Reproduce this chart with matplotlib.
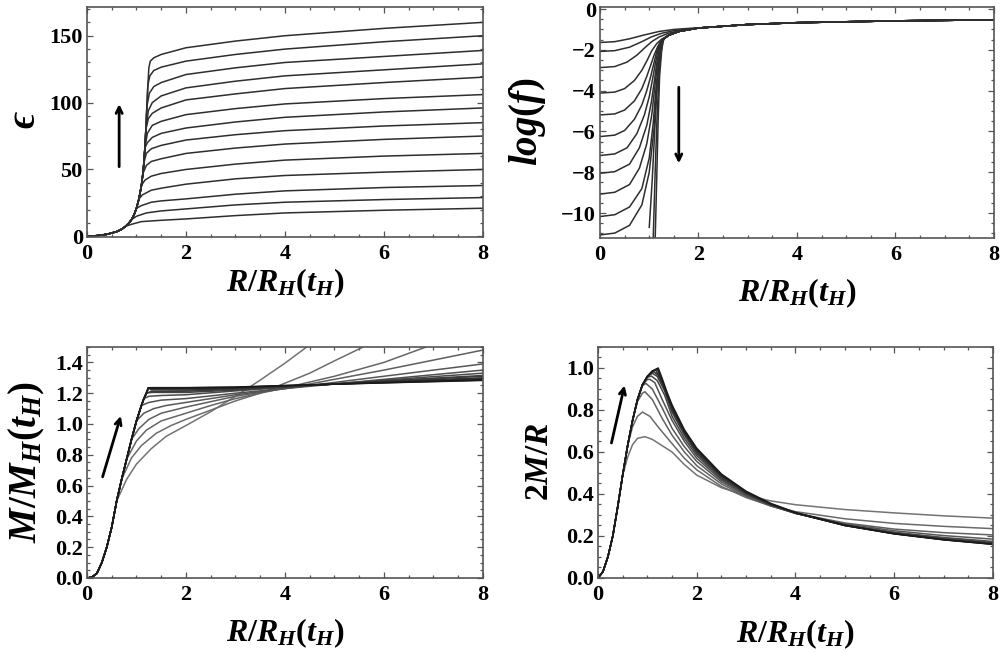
import matplotlib
matplotlib.use("Agg")
import matplotlib.pyplot as plt
from matplotlib.ticker import MultipleLocator, FormatStrFormatter, FuncFormatter

plt.rcParams['font.family'] = ['Liberation Serif', 'DejaVu Serif']
plt.rcParams['font.weight'] = 'bold'
plt.rcParams['mathtext.fontset'] = 'custom'
plt.rcParams['mathtext.rm'] = 'Liberation Serif:bold'
plt.rcParams['mathtext.it'] = 'Liberation Serif:italic:bold'
plt.rcParams['mathtext.bf'] = 'Liberation Serif:bold'

# ---- energy density: common rising branch, then one tail per curve ----
eps_env_R = [0, 0.2, 0.4, 0.6, 0.7, 0.78, 0.85, 0.9, 0.95, 1.0, 1.05, 1.1, 1.13, 1.15, 1.17, 1.19, 1.21, 1.23, 1.25]
eps_env_v = [0, 0.5, 1.5, 3.5, 5.3, 7.5, 10, 12.5, 16, 21, 28, 38, 47, 55, 66, 80, 97, 113, 126]
eps_dep = [18, 17, 16, 15, 15, 14, 14, 13, 12, 11, 10, 9, 7, 5]
eps_knee_R = [[1.28, 1.35], [1.27, 1.35], [1.26, 1.35], [1.24, 1.32], [1.24, 1.32], [1.22, 1.32], [1.22, 1.32],
              [1.2, 1.3], [1.2, 1.3], [1.17, 1.3], [1.12, 1.3], [1.1, 1.3], [1.0, 1.2], [0.9, 1.1]]
eps_knee_v = [[131, 133.5], [120, 124], [107, 112], [94, 100], [88, 92], [77, 83], [70, 74],
              [62, 65.5], [53, 56], [42, 45], [31, 34.5], [23, 25.5], [15, 17.5], [9, 11]]
eps_tail_R = [1.5, 2, 3, 4, 6, 8]
eps_tail_v = [[136, 141, 146, 150, 155.5, 160],
              [126.5, 131, 136, 140, 145.5, 150],
              [115, 121, 126, 130, 134.5, 139],
              [105, 111, 116, 120, 124.5, 129],
              [96, 102, 106.5, 110.5, 115, 119],
              [86, 91, 95.5, 99, 103, 106],
              [77, 81, 85.5, 89, 93, 96],
              [68, 72, 76, 79, 82.5, 85],
              [58, 62, 66, 69, 72.5, 75],
              [47, 50, 54, 57, 60, 62],
              [36, 39, 43, 45.5, 48, 50],
              [26.5, 28, 31.5, 34, 36.5, 38],
              [19, 20.5, 23.5, 25.5, 27.5, 29],
              [12, 13, 15.5, 17.5, 19.5, 21]]

# ---- log(f): each curve up to the shared outer branch ----
logf_tail_R = [1.3, 1.4, 1.6, 2.0, 3.0, 4.0, 6.0, 8.0]
logf_tail_v = [-1.45, -1.28, -1.1, -0.93, -0.76, -0.67, -0.58, -0.53]
logf_R = [[0, 0.3, 0.6, 0.9, 1.2, 1.5, 1.8],
          [0, 0.3, 0.6, 0.85, 1.05, 1.25, 1.5, 1.8],
          [0, 0.3, 0.55, 0.75, 0.9, 1.05, 1.2, 1.4, 1.7],
          [0, 0.3, 0.5, 0.7, 0.85, 0.95, 1.05, 1.15, 1.25],
          [0, 0.3, 0.5, 0.7, 0.85, 0.95, 1.03, 1.1, 1.17, 1.23],
          [0, 0.3, 0.5, 0.7, 0.85, 0.95, 1.03, 1.1, 1.16, 1.22],
          [0, 0.3, 0.55, 0.75, 0.9, 1.0, 1.07, 1.13, 1.18, 1.23],
          [0, 0.3, 0.6, 0.8, 0.95, 1.04, 1.1, 1.15, 1.2, 1.25],
          [0, 0.3, 0.6, 0.8, 0.95, 1.05, 1.11, 1.16, 1.21, 1.25],
          [0, 0.3, 0.6, 0.85, 1.0, 1.08, 1.13, 1.18, 1.22, 1.26],
          [0, 0.3, 0.6, 0.85, 1.0, 1.1, 1.15, 1.19, 1.23, 1.27],
          [1.0, 1.06, 1.11, 1.15, 1.19, 1.23, 1.27],
          [1.08, 1.12, 1.16, 1.2, 1.24, 1.28],
          [1.12, 1.15, 1.18, 1.21, 1.25, 1.28]]
logf_v = [[-1.64, -1.6, -1.46, -1.27, -1.1, -1.0, -0.95],
          [-2.08, -2.04, -1.87, -1.6, -1.36, -1.19, -1.06, -0.97],
          [-2.87, -2.82, -2.6, -2.26, -1.92, -1.6, -1.37, -1.18, -1.02],
          [-4.12, -4.07, -3.9, -3.5, -3.0, -2.55, -2.05, -1.7, -1.48],
          [-5.19, -5.14, -4.95, -4.5, -3.9, -3.3, -2.75, -2.25, -1.85, -1.6],
          [-6.25, -6.18, -5.95, -5.4, -4.7, -4.0, -3.3, -2.6, -2.0, -1.65],
          [-7.18, -7.1, -6.8, -6.1, -5.2, -4.3, -3.4, -2.6, -2.0, -1.65],
          [-8.05, -7.97, -7.6, -6.8, -5.7, -4.6, -3.6, -2.7, -2.0, -1.62],
          [-9.07, -8.98, -8.6, -7.8, -6.6, -5.2, -3.9, -2.8, -2.0, -1.65],
          [-10.17, -10.08, -9.7, -8.8, -7.3, -5.6, -4.1, -2.8, -2.0, -1.62],
          [-11.07, -10.98, -10.6, -9.6, -8.0, -5.8, -4.0, -2.7, -1.95, -1.6],
          [-10.7, -8.4, -6.0, -4.2, -2.8, -2.0, -1.6],
          [-11.3, -8.0, -5.2, -3.2, -2.1, -1.6],
          [-11.3, -8.5, -5.5, -3.3, -2.1, -1.58]]
logf_join = [3, 3, 3, 1, 0, 0, 0, 0, 0, 0, 0, 0, 0, 0]

# ---- mass: common rising branch, then one tail per curve ----
mass_env_R = [0, 0.1, 0.2, 0.3, 0.4, 0.5, 0.6, 0.7, 0.8, 0.9, 1.0, 1.1, 1.15, 1.2, 1.24]
mass_env_v = [0, 0.005, 0.03, 0.1, 0.2, 0.33, 0.5, 0.64, 0.77, 0.9, 1.02, 1.12, 1.165, 1.2, 1.235]
mass_dep = [6, 7, 8, 9, 10, 11, 12, 13, 13, 14, 14, 14, 14, 14]
mass_tail_R = [[0.8, 1.0, 1.3, 1.6, 2, 2.5, 3, 3.5, 4, 4.44],
               [0.9, 1.1, 1.4, 1.7, 2, 2.5, 3, 3.5, 4, 4.5, 5, 5.58],
               [1.0, 1.2, 1.5, 2, 2.5, 3, 3.5, 4, 5, 6, 6.85],
               [1.05, 1.25, 1.5, 2, 3, 4, 5, 6, 7, 8],
               [1.15, 1.35, 1.6, 2, 3, 4, 5, 6, 7, 8],
               [1.25, 1.5, 2, 3, 4, 5, 6, 7, 8],
               [1.25, 1.5, 2, 3, 4, 6, 8],
               [1.3, 2, 3, 4, 6, 8],
               [1.3, 2, 3, 4, 6, 8],
               [1.3, 2, 3, 4, 6, 8],
               [1.3, 2, 3, 4, 6, 8],
               [1.3, 2, 3, 4, 6, 8],
               [1.3, 2, 3, 4, 6, 8],
               [1.3, 2, 3, 4, 6, 8]]
mass_tail_v = [[0.64, 0.74, 0.84, 0.92, 0.99, 1.08, 1.18, 1.285, 1.395, 1.5],
               [0.78, 0.86, 0.94, 0.99, 1.03, 1.09, 1.15, 1.2, 1.265, 1.33, 1.41, 1.5],
               [0.89, 0.96, 1.02, 1.07, 1.12, 1.165, 1.2, 1.235, 1.31, 1.4, 1.5],
               [0.97, 1.03, 1.07, 1.11, 1.18, 1.23, 1.29, 1.35, 1.415, 1.48],
               [1.07, 1.1, 1.12, 1.14, 1.19, 1.23, 1.27, 1.31, 1.35, 1.39],
               [1.14, 1.155, 1.165, 1.2, 1.23, 1.26, 1.29, 1.32, 1.35],
               [1.18, 1.185, 1.19, 1.215, 1.237, 1.285, 1.33],
               [1.205, 1.205, 1.22, 1.24, 1.28, 1.315],
               [1.212, 1.213, 1.225, 1.242, 1.278, 1.31],
               [1.222, 1.22, 1.23, 1.245, 1.275, 1.30],
               [1.228, 1.227, 1.233, 1.246, 1.272, 1.295],
               [1.232, 1.232, 1.236, 1.248, 1.27, 1.29],
               [1.235, 1.235, 1.238, 1.249, 1.268, 1.285],
               [1.236, 1.236, 1.24, 1.25, 1.267, 1.283]]

# ---- compactness 2M/R ----
comp_env_R = [0, 0.1, 0.2, 0.3, 0.4, 0.5, 0.6, 0.7, 0.8, 0.9, 1.0, 1.1, 1.22]
comp_env_v = [0, 0.03, 0.1, 0.2, 0.34, 0.49, 0.63, 0.75, 0.85, 0.92, 0.96, 0.985, 1.0]
comp_dep = [5, 6, 7, 8, 9, 9, 10, 10, 11, 11, 12]
comp_peak_R = [[0.6, 0.7, 0.8, 0.95, 1.1, 1.3],
               [0.7, 0.8, 0.9, 1.05, 1.25],
               [0.8, 0.9, 0.95, 1.1, 1.3],
               [0.9, 0.97, 1.1, 1.3],
               [1.0, 1.05, 1.15, 1.3],
               [1.0, 1.08, 1.2, 1.35],
               [1.1, 1.2, 1.35],
               [1.13, 1.22, 1.35],
               [1.17, 1.3, 1.4],
               [1.2, 1.3, 1.4],
               [1.3, 1.4]]
comp_peak_v = [[0.575, 0.635, 0.665, 0.673, 0.66, 0.63],
               [0.72, 0.77, 0.79, 0.77, 0.71],
               [0.84, 0.88, 0.887, 0.85, 0.76],
               [0.915, 0.927, 0.9, 0.81],
               [0.945, 0.946, 0.93, 0.85],
               [0.955, 0.962, 0.94, 0.87],
               [0.975, 0.96, 0.89],
               [0.983, 0.965, 0.9],
               [0.99, 0.935, 0.87],
               [0.996, 0.94, 0.875],
               [0.95, 0.883]]
comp_tail_R = [1.5, 1.75, 2, 2.5, 3, 3.5, 4, 5, 6, 7, 8]
comp_tail_v = [[0.6, 0.54, 0.49, 0.43, 0.393, 0.367, 0.349, 0.326, 0.31, 0.296, 0.285],
               [0.64, 0.57, 0.515, 0.436, 0.383, 0.343, 0.316, 0.282, 0.26, 0.246, 0.235],
               [0.68, 0.6, 0.535, 0.448, 0.388, 0.343, 0.309, 0.262, 0.233, 0.216, 0.205],
               [0.713, 0.625, 0.555, 0.458, 0.393, 0.344, 0.308, 0.258, 0.225, 0.202, 0.185],
               [0.75, 0.65, 0.57, 0.466, 0.397, 0.346, 0.308, 0.254, 0.218, 0.193, 0.174],
               [0.77, 0.665, 0.583, 0.472, 0.4, 0.348, 0.308, 0.252, 0.215, 0.189, 0.169],
               [0.79, 0.68, 0.593, 0.478, 0.403, 0.349, 0.309, 0.251, 0.213, 0.186, 0.166],
               [0.8, 0.688, 0.6, 0.483, 0.405, 0.35, 0.309, 0.25, 0.212, 0.184, 0.164],
               [0.81, 0.695, 0.608, 0.488, 0.408, 0.351, 0.31, 0.25, 0.211, 0.183, 0.162],
               [0.818, 0.7, 0.613, 0.491, 0.41, 0.353, 0.311, 0.25, 0.21, 0.182, 0.161],
               [0.824, 0.706, 0.618, 0.495, 0.413, 0.355, 0.312, 0.252, 0.211, 0.182, 0.16]]


def style_axes(ax, ylim, ymaj, ymin, yfmt):
    ax.set_xlim(0, 8)
    ax.set_ylim(*ylim)
    ax.xaxis.set_major_locator(MultipleLocator(2))
    ax.xaxis.set_minor_locator(MultipleLocator(0.5))
    ax.yaxis.set_major_locator(MultipleLocator(ymaj))
    ax.yaxis.set_minor_locator(MultipleLocator(ymin))
    ax.yaxis.set_major_formatter(yfmt)
    ax.tick_params(which='both', direction='in', top=True, right=True, color='#555555', width=0.9)
    ax.tick_params(which='major', length=4.5, labelsize=16)
    ax.tick_params(which='minor', length=2.5)
    ax.tick_params(axis='x', pad=5)
    ax.tick_params(axis='y', pad=3)
    for s in ax.spines.values():
        s.set_color('#555555')
        s.set_linewidth(1.2)


def arrow(ax, start, end):
    ax.annotate('', xy=end, xytext=start,
                arrowprops=dict(arrowstyle='->,head_length=0.45,head_width=0.22', lw=2.0, color='black'))


def grey(i, n):
    return str(0.45 - 0.35 * i / (n - 1))


fig = plt.figure(figsize=(10.02, 6.52), dpi=100)
ax1 = fig.add_axes([0.0868, 0.6365, 0.3952, 0.3528])
ax2 = fig.add_axes([0.5988, 0.6350, 0.3932, 0.3543])
ax3 = fig.add_axes([0.0868, 0.1135, 0.3952, 0.3543])
ax4 = fig.add_axes([0.5968, 0.1135, 0.3942, 0.3543])

line_kw = dict(color='#2e2e2e', lw=1.1)

# energy density
for i in range(len(eps_dep)):
    d = eps_dep[i]
    xs = eps_env_R[:d + 1] + eps_knee_R[i] + eps_tail_R
    ys = eps_env_v[:d + 1] + eps_knee_v[i] + eps_tail_v[i]
    ax1.plot(xs, ys, **line_kw)
style_axes(ax1, (-0.5, 171.5), 50, 10, FormatStrFormatter('%d'))
arrow(ax1, (0.65, 50), (0.65, 101))
ax1.set_ylabel('\u03f5', fontsize=28, fontstyle='italic', fontweight='bold')
ax1.yaxis.set_label_coords(-0.157, 0.51)

# log(f)
for i in range(len(logf_R)):
    j = logf_join[i]
    ax2.plot(logf_R[i] + logf_tail_R[j:], logf_v[i] + logf_tail_v[j:], **line_kw)
style_axes(ax2, (-11.22, 0.1), 2, 0.5,
           FuncFormatter(lambda v, p: '0' if abs(v) < 1e-9 else '\u2212%d' % abs(round(v))))
arrow(ax2, (1.6, -3.7), (1.6, -7.7))
ax2.set_ylabel(r'$log(f)$', fontsize=28)
ax2.yaxis.set_label_coords(-0.185, 0.506)

# mass
for i in range(len(mass_dep)):
    d = mass_dep[i]
    ax3.plot(mass_env_R[:d + 1] + mass_tail_R[i], mass_env_v[:d + 1] + mass_tail_v[i],
             color=grey(i, len(mass_dep)), lw=1.1)
style_axes(ax3, (0, 1.5), 0.2, 0.05, FormatStrFormatter('%.1f'))
arrow(ax3, (0.3, 0.64), (0.7, 1.07))
ax3.set_ylabel(r'$M/M_H(t_H)$', fontsize=28)
ax3.yaxis.set_label_coords(-0.152, 0.502)

# compactness
for i in range(len(comp_dep)):
    d = comp_dep[i]
    ax4.plot(comp_env_R[:d + 1] + comp_peak_R[i] + comp_tail_R,
             comp_env_v[:d + 1] + comp_peak_v[i] + comp_tail_v[i],
             color=grey(i, len(comp_dep)), lw=1.1)
style_axes(ax4, (0, 1.1), 0.2, 0.05, FormatStrFormatter('%.1f'))
arrow(ax4, (0.26, 0.63), (0.55, 0.93))
ax4.set_ylabel(r'$2M/R$', fontsize=24)
ax4.yaxis.set_label_coords(-0.147, 0.502)

for ax, yc in ((ax1, -0.2), (ax2, -0.24), (ax3, -0.238), (ax4, -0.245)):
    ax.set_xlabel(r'$R/R_H(t_H)$', fontsize=23)
    ax.xaxis.label.set_va('center')
    ax.xaxis.set_label_coords(0.5, yc)
for ax in (ax1, ax2, ax3, ax4):
    ax.yaxis.label.set_va('center')

fig.savefig('out.png', dpi=100)
